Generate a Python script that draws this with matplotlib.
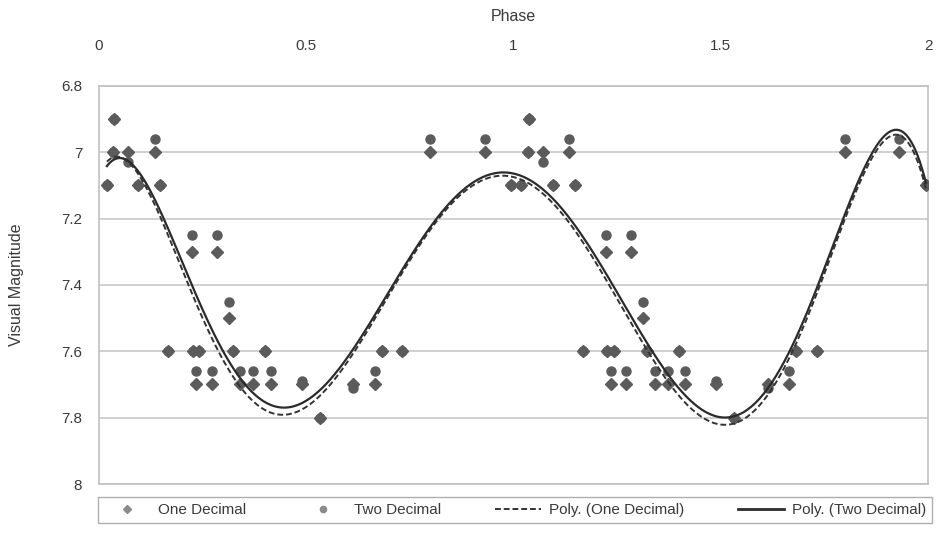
import numpy as np
import matplotlib.pyplot as plt
from matplotlib.lines import Line2D
from matplotlib import font_manager

plt.rcParams['font.family'] = ['Liberation Sans', 'DejaVu Sans']

# folded phases of each observation (0-1), plotted over two cycles
phase = [0.019, 0.037, 0.034, 0.070, 0.095, 0.134, 0.148, 0.167, 0.224, 0.226,
         0.242, 0.235, 0.272, 0.284, 0.313, 0.322, 0.341, 0.372, 0.400, 0.414,
         0.489, 0.533, 0.613, 0.665, 0.682, 0.731, 0.799, 0.930, 0.995]
# estimates rounded to one decimal
mag_one = [7.1, 6.9, 7.0, 7.0, 7.1, 7.0, 7.1, 7.6, 7.3, 7.6,
           7.6, 7.7, 7.7, 7.3, 7.5, 7.6, 7.7, 7.7, 7.6, 7.7,
           7.7, 7.8, 7.7, 7.7, 7.6, 7.6, 7.0, 7.0, 7.1]
# same estimates with two decimals
mag_two = [7.10, 6.90, 7.00, 7.03, 7.10, 6.96, 7.10, 7.60, 7.25, 7.60,
           7.60, 7.66, 7.66, 7.25, 7.45, 7.60, 7.66, 7.66, 7.60, 7.66,
           7.69, 7.80, 7.71, 7.66, 7.60, 7.60, 6.96, 6.96, 7.10]

x_ticks = [0, 0.5, 1, 1.5, 2]
x_labels = ["0", "0.5", "1", "1.5", "2"]
y_ticks = [6.8, 7.0, 7.2, 7.4, 7.6, 7.8, 8.0]
y_labels = ["6.8", "7", "7.2", "7.4", "7.6", "7.8", "8"]


def main():
    p = np.array(phase)
    x = np.concatenate([p, p + 1])
    y1 = np.concatenate([mag_one, mag_one])
    y2 = np.concatenate([mag_two, mag_two])

    # 6th order trendlines like the spreadsheet ones
    c1 = np.polyfit(x, y1, 6)
    c2 = np.polyfit(x, y2, 6)
    xs = np.linspace(x.min(), x.max(), 400)

    gray = "#5b5b5b"
    fig = plt.figure(figsize=(9.37, 5.36), dpi=100)
    ax = fig.add_axes([0.1057, 0.097, 0.8847, 0.7426])

    ax.plot(x, y1, linestyle="none", marker="D", markersize=6.5, color=gray, zorder=3)
    ax.plot(x, y2, linestyle="none", marker="o", markersize=6.5, color=gray, zorder=3)
    ax.plot(xs, np.polyval(c1, xs), color="#333333", lw=1.4, ls=(0, (3, 1.5)), zorder=4)
    ax.plot(xs, np.polyval(c2, xs), color="#2b2b2b", lw=1.6, zorder=4)

    ax.set_xlim(0, 2)
    ax.set_ylim(8.0, 6.8)
    ax.xaxis.tick_top()
    ax.xaxis.set_label_position("top")
    ax.set_xticks(x_ticks)
    ax.set_xticklabels(x_labels)
    ax.set_yticks(y_ticks)
    ax.set_yticklabels(y_labels)
    ax.tick_params(axis="x", length=0, pad=24, labelsize=11, colors="#3a3a3a")
    ax.tick_params(axis="y", length=0, pad=12, labelsize=11, colors="#3a3a3a")
    ax.set_xlabel("Phase", fontsize=11.5, color="#3a3a3a", labelpad=13)
    ax.set_ylabel("Visual Magnitude", fontsize=11.5, color="#3a3a3a", labelpad=27)
    ax.grid(True, axis="y", color="#c8c8c8", lw=1.2)
    for s in ax.spines.values():
        s.set_color("#c0c0c0")
        s.set_linewidth(1.2)

    # condensed face for the legend if it is there
    names = {f.name for f in font_manager.fontManager.ttflist}
    leg_font = "Liberation Sans Narrow" if "Liberation Sans Narrow" in names else "Liberation Sans"

    handles = [
        Line2D([], [], ls="none", marker="D", markersize=4, color="#8a8a8a"),
        Line2D([], [], ls="none", marker="o", markersize=4.5, color="#8a8a8a"),
        Line2D([], [], color="#333333", lw=1.4, ls=(0, (3, 1.5))),
        Line2D([], [], color="#2b2b2b", lw=2),
    ]
    labels = ["One Decimal", "Two Decimal", "Poly. (One Decimal)", "Poly. (Two Decimal)"]
    leg = fig.legend(handles, labels, loc="center", ncol=4,
                     bbox_to_anchor=(0.1046, 0.008, 0.89, 0.08), mode="expand",
                     prop={"family": leg_font, "size": 11}, frameon=True, fancybox=False,
                     handlelength=3, handletextpad=0.5, borderaxespad=0)
    leg.get_frame().set_edgecolor("#9a9a9a")
    leg.get_frame().set_linewidth(1.0)
    for t in leg.get_texts():
        t.set_color("#3a3a3a")

    fig.savefig("out.png", dpi=100)


if __name__ == "__main__":
    main()
